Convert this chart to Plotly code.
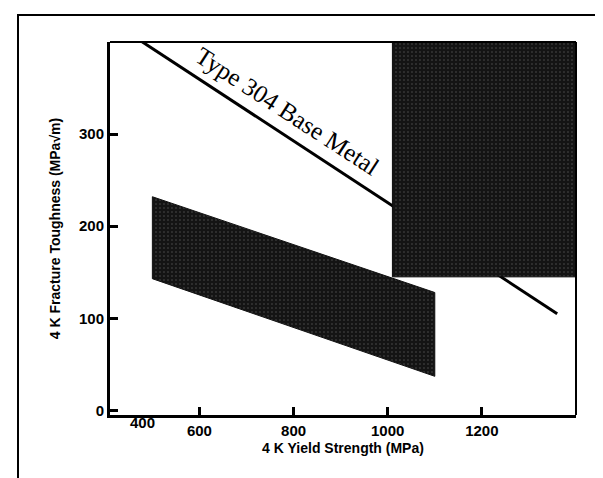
import plotly.graph_objects as go

# Data
base_metal_x = [470, 1360]
base_metal_y = [403, 105]

weld_band_x = [500, 1100, 1100, 500, 500]
weld_band_y = [232, 128, 37, 143, 232]

high_strength_x = [1010, 1410, 1410, 1010, 1010]
high_strength_y = [145, 145, 405, 405, 145]

x_tick_vals = [600, 800, 1000, 1200]
x_tick_text = ["600", "800", "1000", "1200"]
y_tick_vals = [0, 100, 200, 300]

W, H = 603, 478
L, R, T, B = 102, 35, 34, 71

fig = go.Figure()

fig.add_trace(go.Scatter(
    x=base_metal_x, y=base_metal_y, mode="lines",
    line=dict(color="black", width=3), showlegend=False, hoverinfo="skip"))

pat = dict(shape=".", fgcolor="#8a8a8a", bgcolor="#141414", size=4, solidity=0.12)

fig.add_trace(go.Scatter(
    x=weld_band_x, y=weld_band_y, mode="lines", fill="toself",
    fillcolor="#151515", fillpattern=pat,
    line=dict(color="#111111", width=1), showlegend=False, hoverinfo="skip"))

fig.add_trace(go.Scatter(
    x=high_strength_x, y=high_strength_y, mode="lines", fill="toself",
    fillcolor="#111111", fillpattern=pat,
    line=dict(color="#0a0a0a", width=1), showlegend=False, hoverinfo="skip"))

tickfont = dict(family="Liberation Sans", size=15, color="black", weight="bold")
titlefont = dict(family="Liberation Sans", size=14, color="black", weight="bold")

fig.update_xaxes(
    range=[410, 1400], tickvals=x_tick_vals, ticktext=x_tick_text,
    ticks="inside", ticklen=8, tickwidth=3, tickcolor="black",
    showline=True, linecolor="black", linewidth=3, mirror=False,
    showgrid=False, zeroline=False, tickfont=tickfont, automargin=False,
    title=dict(text="4 K Yield Strength (MPa)", font=titlefont, standoff=6))
fig.update_yaxes(
    range=[-5, 400], tickvals=y_tick_vals,
    ticks="inside", ticklen=8, tickwidth=3, tickcolor="black",
    showline=True, linecolor="black", linewidth=3, mirror=False,
    showgrid=False, zeroline=False, tickfont=tickfont, automargin=False,
    title=dict(text="4 K Fracture Toughness (MPa\u221am)", font=titlefont, standoff=16))

# top/right frame of the plot area
fig.add_shape(type="line", xref="paper", yref="paper", x0=0, x1=1, y0=1, y1=1,
              line=dict(color="black", width=2))
fig.add_shape(type="line", xref="paper", yref="paper", x0=1, x1=1, y0=0, y1=1,
              line=dict(color="black", width=2))

# outer figure border
pw, ph = W - L - R, H - T - B
fig.add_shape(type="rect", xref="paper", yref="paper",
              x0=(10 - L) / pw, x1=(598 - L) / pw,
              y0=(H - B - 476) / ph, y1=(H - B - 7) / ph,
              line=dict(color="black", width=2))

# leftmost x tick label (sits at the axis origin)
fig.add_annotation(text="400", xref="paper", yref="paper", x=(120 - L) / pw, y=0,
                   yshift=-18, showarrow=False, font=tickfont)

fig.add_annotation(text="Type 304 Base Metal", x=788, y=325, showarrow=False,
                   textangle=33,
                   font=dict(family="Liberation Serif", size=25, color="black"))

fig.update_layout(
    width=W, height=H, margin=dict(l=L, r=R, t=T, b=B),
    paper_bgcolor="white", plot_bgcolor="white")

fig.write_html("out.html")
